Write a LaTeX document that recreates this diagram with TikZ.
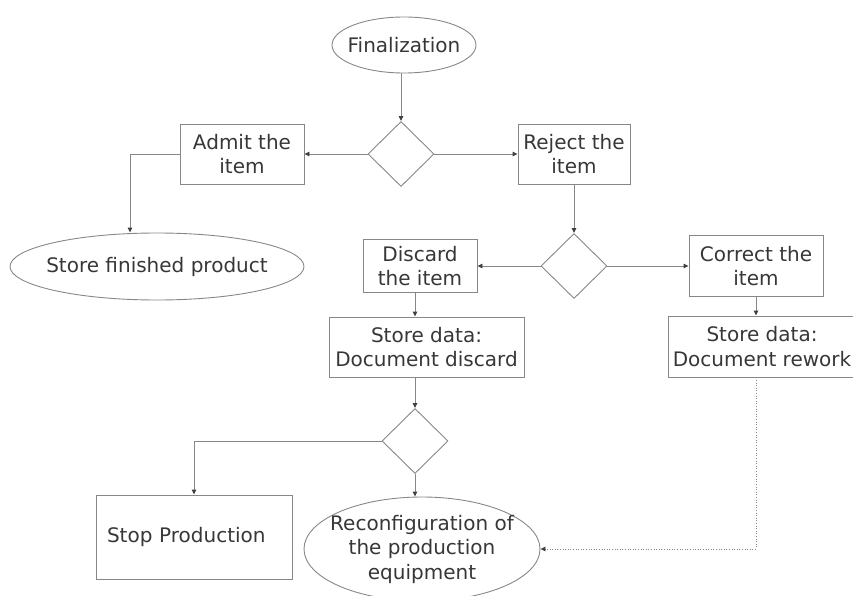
\documentclass[tikz,border=0pt]{standalone}
\usepackage{fontspec}
\setmainfont{DejaVu Sans}
\usetikzlibrary{shapes.geometric,arrows.meta}
\definecolor{linegray}{RGB}{135,135,135}
\definecolor{textgray}{RGB}{55,55,55}
\begin{document}
\begin{tikzpicture}[x=1pt,y=-1pt,
  every node/.style={font=\fontsize{20}{24.5}\selectfont, text=textgray},
  box/.style={draw=linegray, line width=0.9pt, rectangle, inner sep=0pt, align=center},
  oval/.style={draw=linegray, line width=0.9pt, ellipse, inner sep=-40pt, align=center},
  choice/.style={draw=linegray, line width=0.9pt, diamond, inner sep=0pt,
    minimum width=66pt, minimum height=65pt},
  flow/.style={draw=linegray, line width=0.9pt,
    -{Triangle[length=5pt,width=4.5pt,color=black!75]}},
  dotflow/.style={flow, dash pattern=on 1pt off 1.6pt},
]
\clip (0,0) rectangle (853,596);

% start
\node[oval, minimum width=144pt, minimum height=56pt] (fin) at (404,45) {Finalization};
\node[choice] (d1) at (401,154) {};
\node[box, minimum width=124pt, minimum height=60pt] (admit) at (242,154) {Admit the\\item};
\node[box, minimum width=112pt, minimum height=60pt] (reject) at (574,154) {Reject the\\item};
\node[oval, minimum width=294pt, minimum height=67pt] (stored) at (157,266.5) {Store finished product};
\coordinate (fx) at (130,0);

% second decision
\node[choice] (d2) at (574,266) {};
\node[box, minimum width=114pt, minimum height=53pt] (discard) at (420,266) {Discard\\the item};
\node[box, minimum width=134pt, minimum height=61pt] (correct) at (756,266) {Correct the\\item};
\node[box, minimum width=195pt, minimum height=60pt] (docdisc) at (426.5,347) {Store data:\\Document discard};
\node[box, minimum width=188pt, minimum height=61pt] (docrew) at (762,346.5) {Store data:\\Document rework};

% third decision
\node[choice] (d3) at (415,441) {};
\node[box, minimum width=196pt, minimum height=84pt, text width=174pt, align=left]
  (stop) at (194,537) {Stop Production};
\node[oval, minimum width=236pt, minimum height=104pt] (reconf) at (422,549)
  {Reconfiguration of\\the production\\equipment};

% connectors
\draw[flow] (fin.south -| d1) -- (d1.north);
\draw[flow] (d1.west) -- (admit.east);
\draw[flow] (d1.east) -- (reject.west);
\draw[flow] (admit.west) -| (stored.north -| fx);
\draw[flow] (reject.south) -- (d2.north);
\draw[flow] (d2.west) -- (discard.east);
\draw[flow] (d2.east) -- (correct.west);
\draw[flow] (discard.south -| d3) -- (docdisc.north -| d3);
\draw[flow] (correct.south) -- (correct.south |- docrew.north);
\draw[flow] (docdisc.south -| d3) -- (d3.north);
\draw[flow] (d3.west) -| (stop.north);
\draw[flow] (d3.south) -- (d3.south |- reconf.north);
\draw[dotflow] (docrew.south -| correct) |- (reconf.east);
\end{tikzpicture}
\end{document}
